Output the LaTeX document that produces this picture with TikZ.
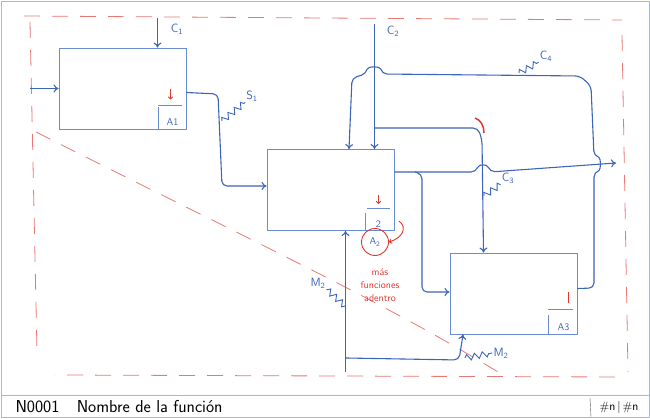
\documentclass[tikz,border=0pt]{standalone}
\usepackage{tikz}
\usetikzlibrary{arrows.meta,decorations.pathmorphing}
\definecolor{penblue}{RGB}{60,100,185}
\definecolor{boxblue}{RGB}{105,140,210}
\definecolor{penred}{RGB}{225,55,45}
\definecolor{dashred}{RGB}{232,120,115}
\definecolor{framblue}{RGB}{160,185,225}

\tikzset{
  fnbox/.style={draw=boxblue, line width=0.9pt, minimum width=127pt, minimum height=81pt, inner sep=0pt},
  flow/.style={draw=penblue, line width=1.1pt, -{To[length=5pt,width=8pt]}, rounded corners=5pt},
  leader/.style={draw=penblue, line width=0.9pt, decorate, decoration={zigzag,segment length=8pt,amplitude=3pt}},
  lab/.style={text=penblue, font=\sffamily\large, inner sep=1pt},
  tag/.style={draw=boxblue, line width=0.8pt},
  redpen/.style={draw=penred, line width=0.9pt},
  bound/.style={draw=dashred, line width=0.8pt, dash pattern=on 16pt off 12pt},
  frame/.style={draw=framblue, line width=1pt},
}

\begin{document}
\begin{tikzpicture}[x=1pt,y=-1pt]
  \useasboundingbox (0,0) rectangle (650,419);

  % sheet frame and footer
  \draw[frame] (1,2) rectangle (649,417);
  \draw[frame] (1,395) -- (649,395);
  \draw[gray!70!black] (590,398) -- (591,417);
  \node[anchor=west, font=\sffamily\LARGE] (ttl) at (12,407) {N0001\quad Nombre de la función};
  \node[font=\sffamily\large] (pg) at (619,407) {\#n\,|\,\#n};

  % context boundary
  \draw[bound] (24,16) -- (622,20);
  \draw[bound] (622,35) -- (628,372);
  \draw[bound] (615,377) -- (55,375);
  \draw[bound] (30,22) -- (37,352);
  \draw[bound] (36,132) .. controls (250,240) and (380,300) .. (498,372);

  % activity boxes
  \node[fnbox] (A1) at (122.5,88.5) {};
  \node[fnbox] (A2) at (330.5,190) {};
  \node[fnbox] (A3) at (513.5,293.5) {};

  % box numbers
  \draw[tag] ([xshift=-28pt]A1.south east) -- ++(0pt,22pt);
  \draw[tag] ([xshift=-28pt,yshift=24pt]A1.south east) -- ++(24pt,0pt);
  \node[lab, anchor=south, font=\sffamily] at ([xshift=-14pt,yshift=3pt]A1.south east) {A1};
  \draw[redpen,-{To[length=3pt,width=5pt]}] ([xshift=-16pt,yshift=40pt]A1.south east) -- ++(0pt,-10pt);

  \draw[tag] ([xshift=-29pt]A2.south east) -- ++(0pt,18pt);
  \draw[tag] ([xshift=-27pt,yshift=23pt]A2.south east) -- ++(23pt,0pt);
  \node[lab, anchor=south, font=\sffamily] at ([xshift=-16pt,yshift=2pt]A2.south east) {2};
  \draw[redpen,-{To[length=3pt,width=5pt]}] ([xshift=-16pt,yshift=36pt]A2.south east) -- ++(0pt,-9pt);

  \draw[tag] ([xshift=-29pt]A3.south east) -- ++(0pt,19pt);
  \draw[tag] ([xshift=-29pt,yshift=25pt]A3.south east) -- ++(25pt,0pt);
  \node[lab, anchor=south, font=\sffamily] at ([xshift=-14pt,yshift=3pt]A3.south east) {A3};
  \draw[redpen] ([xshift=-9pt,yshift=42pt]A3.south east) -- ++(0pt,-11pt);

  % inputs, outputs
  \coordinate (in1) at (30,88.5);
  \draw[flow] (in1) -- (A1.west);
  \draw[flow] ([yshift=-4pt]A1.east) -- (218,94) -- (222,186) -- ([yshift=4pt]A2.west);
  \coordinate (out2) at (616,163);
  \draw[flow] ([yshift=18pt]A2.east) -- (476,172) .. controls (479,164) and (487,164) .. (490,172) -- (out2);
  \coordinate (o2split) at (415,172);
  \draw[flow] (o2split) -- (422,174) -- (422,292) -- ([yshift=1.5pt]A3.west);

  % controls
  \coordinate (c1top) at (157.5,18);
  \draw[flow] (c1top) -- (c1top |- A1.north);
  \coordinate (c2top) at (374.5,24);
  \draw[flow] (c2top) -- (c2top |- A2.north);
  \coordinate (c3split) at (375,128);
  \draw[flow] (c3split) -- (478,128) -- (482,140) -- ([xshift=-30pt]A3.north);
  \draw[flow] ([yshift=5pt]A3.east) -- (594,288) -- (594,172)
    .. controls (601,170) and (601,158) .. (594,156) -- (591,86) -- (580,76) -- (382,74)
    .. controls (380,66) and (368,66) .. (366,74) -- (352,78) -- ([xshift=18.5pt]A2.north);

  % mechanisms
  \coordinate (m2bot) at (345.5,372);
  \draw[flow] (m2bot) -- (m2bot |- A2.south);
  \coordinate (m2split) at (346,358);
  \draw[flow] (m2split) -- (459,360) -- ([xshift=-50.5pt]A3.south);

  % arrow labels
  \node[lab] (c1lab) at (177,29) {C\textsubscript{1}};
  \node[lab] (c2lab) at (393,31) {C\textsubscript{2}};
  \node[lab] (c3lab) at (508,178) {C\textsubscript{3}};
  \node[lab] (c4lab) at (546,56) {C\textsubscript{4}};
  \node[lab] (s1lab) at (252,96) {S\textsubscript{1}};
  \node[lab] (m2lab) at (318,283) {M\textsubscript{2}};
  \node[lab] (m2blab) at (501,353) {M\textsubscript{2}};
  \draw[leader] (222,121) -- (s1lab.south west);
  \draw[leader] (484,196) -- (c3lab.south west);
  \draw[leader] (519,73) -- (c4lab.south west);
  \draw[leader] (345,306) -- (m2lab.south east);
  \draw[leader] (465,358) -- (m2blab.west);

  % notes in red
  \node[draw=penred, circle, line width=0.9pt, minimum size=27pt, inner sep=0pt, text=penblue, font=\sffamily] (A2c) at (375,242) {A\textsubscript{2}};
  \coordinate (redtip) at (399,221);
  \draw[redpen,-{To[length=3pt,width=5pt]}] (redtip) .. controls (408,228) and (402,238) .. (A2c.east);
  \node[text=penred, font=\sffamily, align=center] (note) at (380,285) {más\\[1pt]funciones\\[1pt]adentro};
  \draw[redpen, line width=1.5pt] (475,118) .. controls (481,120) and (484,126) .. (484,133);
\end{tikzpicture}
\end{document}
